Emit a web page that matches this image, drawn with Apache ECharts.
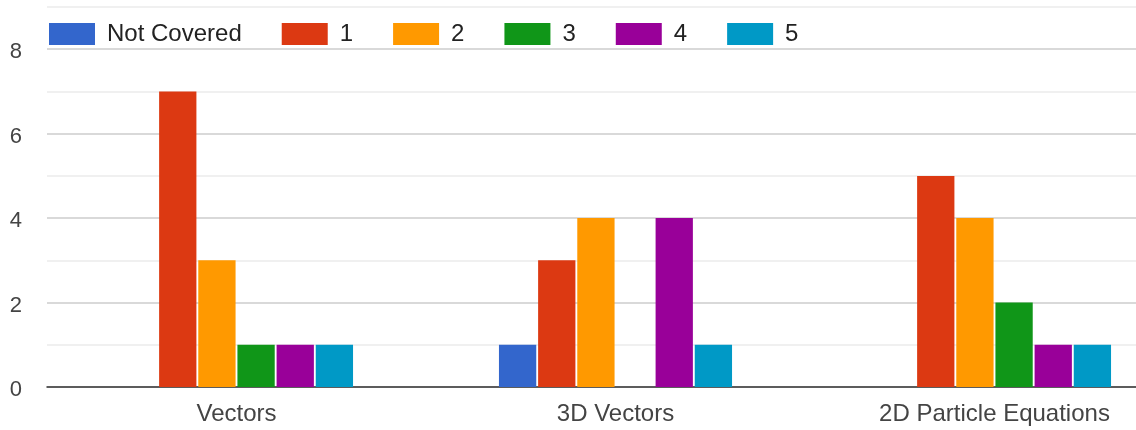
<!DOCTYPE html>
<html><head><meta charset="utf-8">
<script src="https://cdn.jsdelivr.net/npm/echarts@6/dist/echarts.min.js"></script>
<style>html,body{margin:0;padding:0;background:#fff}#c{width:1136px;height:430px}</style>
</head><body><div id="c"></div>
<script>
const categories = ['Vectors', '3D Vectors', '2D Particle Equations'];
const seriesNames = ['Not Covered', '1', '2', '3', '4', '5'];
const notCovered = [0, 1, 0];
const r1 = [7, 3, 5];
const r2 = [3, 4, 4];
const r3 = [1, 0, 2];
const r4 = [1, 4, 1];
const r5 = [1, 1, 1];
const colors = ['#3366cc', '#dc3912', '#ff9900', '#109618', '#990099', '#0099c6'];
const yTickLabels = ['0', '2', '4', '6', '8'];

const seriesData = [notCovered, r1, r2, r3, r4, r5];
const FONT = '"Liberation Sans", Arial, sans-serif';
const chart = echarts.init(document.getElementById('c'), null, {renderer: 'canvas'});
chart.setOption({
  animation: false,
  color: colors,
  textStyle: {fontFamily: FONT},
  legend: {
    left: 49, top: 22, padding: 0,
    itemWidth: 46, itemHeight: 22, itemGap: 40,
    icon: 'rect',
    textStyle: {fontSize: 24, color: '#222', fontFamily: FONT, padding: [0, 0, 0, 7]},
    data: seriesNames
  },
  grid: {left: 47, width: 1137, top: 7, bottom: 43, containLabel: false, outerBoundsMode: 'none'},
  xAxis: {
    type: 'category', data: categories,
    axisTick: {show: false},
    axisLine: {lineStyle: {color: '#333', width: 1.5}},
    axisLabel: {fontSize: 24, color: '#444', margin: 15, fontFamily: FONT}
  },
  yAxis: {
    type: 'value', min: 0, max: 9, interval: 1,
    axisLine: {show: false}, axisTick: {show: false},
    axisLabel: {
      fontSize: 22, color: '#444', margin: 25, fontFamily: FONT,
      verticalAlign: 'top', lineHeight: 6,
      formatter: v => yTickLabels.includes(String(v)) ? String(v) : ''
    },
    splitLine: {lineStyle: {color: ['#cccccc', '#ebebeb'], width: 1.5}}
  },
  series: seriesNames.map((n, i) => ({
    name: n, type: 'bar', data: seriesData[i],
    barGap: '5%', barCategoryGap: '38.5%'
  }))
});
</script></body></html>
